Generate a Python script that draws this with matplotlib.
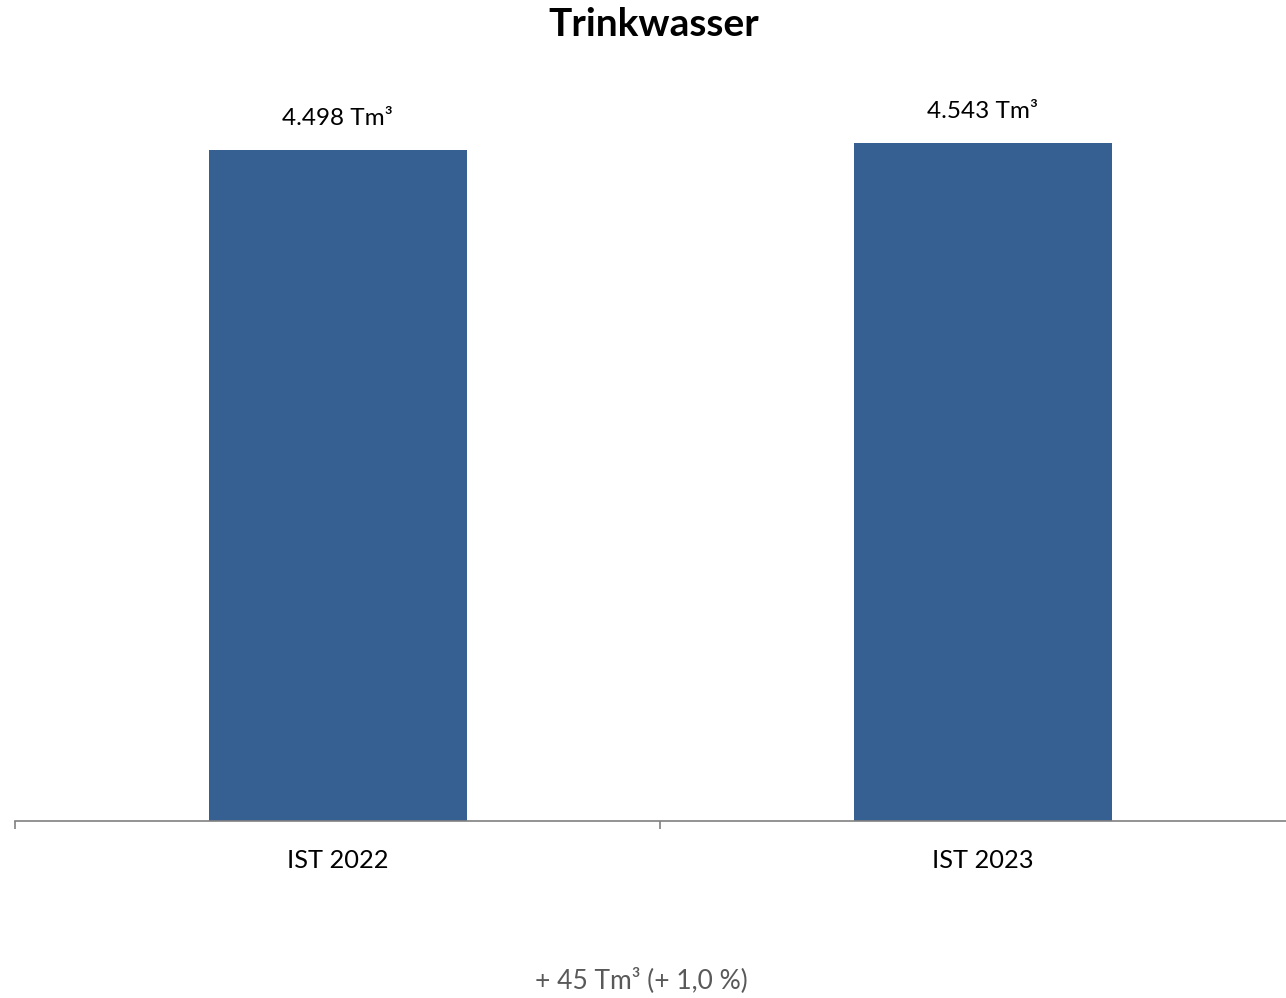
import matplotlib.pyplot as plt

kategorien = ["IST 2022", "IST 2023"]
werte = [4498, 4543]
wert_labels = ["4.498 Tm³", "4.543 Tm³"]
differenz_text = "+ 45 Tm³ (+ 1,0 %)"

plt.rcParams["font.family"] = ["Lato", "DejaVu Sans"]

fig = plt.figure(figsize=(12.86, 9.98), dpi=100)
# Achse etwas breiter als die Figur, rechts abgeschnitten
ax = fig.add_axes([15 / 1286, 177 / 998, 1290 / 1286, 721 / 998])

x = range(len(kategorien))
balken = ax.bar(x, werte, width=0.4, color="#376092", zorder=2)
ax.set_xlim(-0.5, 1.5)
ax.set_ylim(0, 721 / (671 / 4498))

for b, txt in zip(balken, wert_labels):
    ax.annotate(txt, (b.get_x() + b.get_width() / 2, b.get_height()),
                xytext=(0, 15), textcoords="offset points",
                ha="center", va="bottom", fontsize=17.5, color="black")

for s in ["top", "right", "left"]:
    ax.spines[s].set_visible(False)
ax.spines["bottom"].set_color("#808080")
ax.spines["bottom"].set_linewidth(1.2)
ax.set_yticks([])
ax.set_xticks([-0.5, 0.5, 1.5], minor=False)
ax.set_xticklabels([])
ax.tick_params(axis="x", length=6, width=1.2, color="#808080")
ax.set_xticks(list(x), minor=True)
ax.set_xticklabels(kategorien, minor=True, fontsize=18.3)
ax.tick_params(axis="x", which="minor", length=0, pad=20)

fig.text(0.508, 1 - 24 / 998, "Trinkwasser", ha="center", va="center",
         fontsize=28, fontweight="bold")
fig.text(641 / 1286, 1 - 980 / 998, differenz_text, ha="center", va="center",
         fontsize=19, color="#595959")

fig.savefig("out.png", dpi=100)
